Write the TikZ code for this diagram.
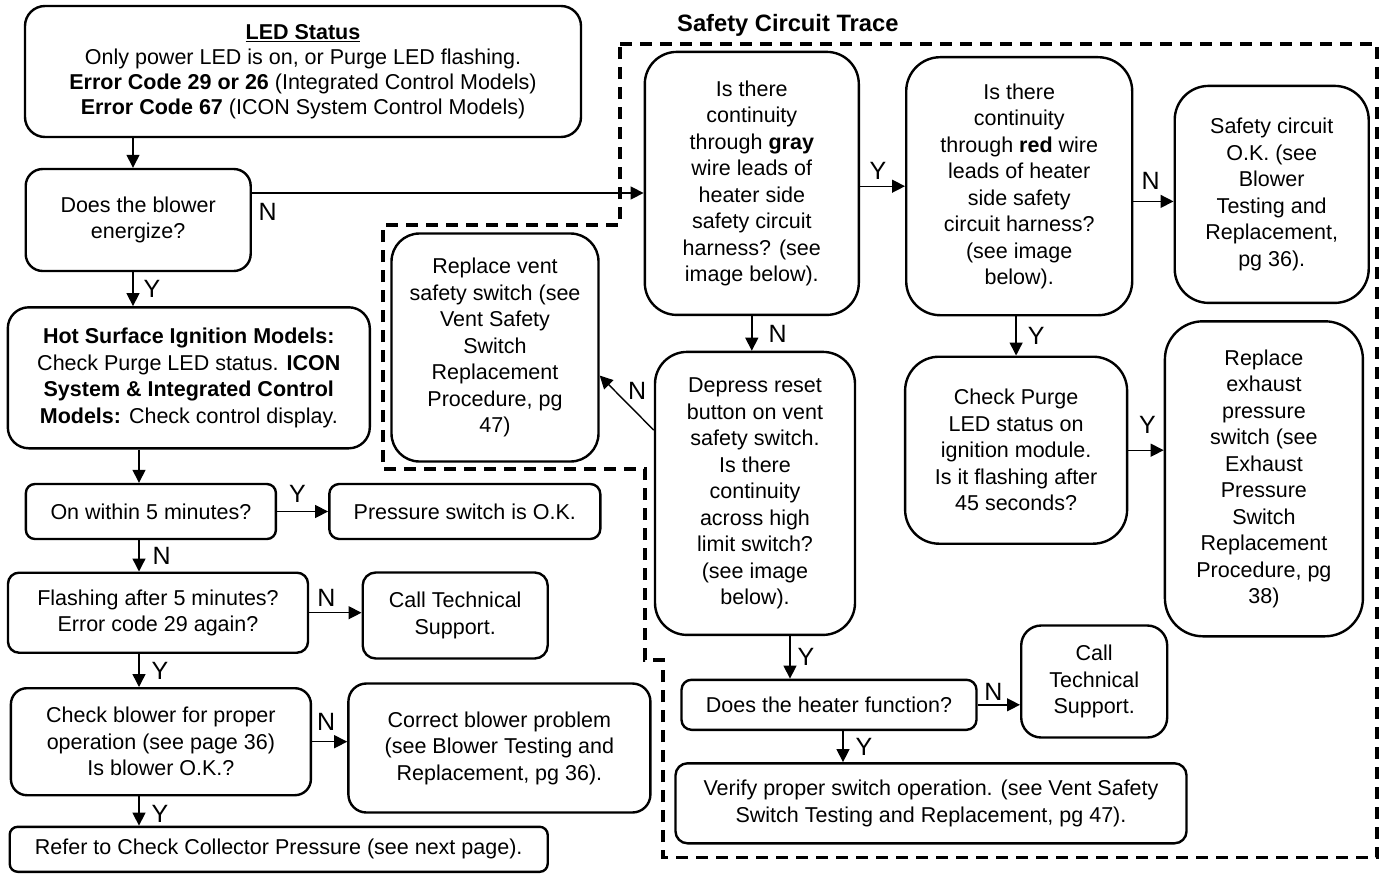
\documentclass[tikz,border=0pt]{standalone}
\usepackage{fontspec}
\setmainfont{Liberation Sans}
\usetikzlibrary{arrows.meta,positioning}

\begin{document}
\begin{tikzpicture}[x=1pt, y=-1pt,
  box/.style={draw, line width=2.4pt, rounded corners=#1, align=center,
              inner sep=0pt, font=\fontsize{21.5}{26.5}\selectfont},
  box/.default=12pt,
  lbl/.style={font=\fontsize{25}{28}\selectfont, inner sep=1pt},
  arr/.style={-{Triangle[length=13pt,width=13pt]}, line width=1.4pt},
  trace/.style={line width=3.8pt, dash pattern=on 12pt off 8pt}
]
\useasboundingbox (0,0) rectangle (1380,875);

\node[box=20pt, minimum width=556pt, minimum height=131pt, font=\fontsize{21.5}{25}\selectfont] (led) at (303,71.5)
  {\underline{\textbf{LED Status}}\\Only power LED is on, or Purge LED flashing.\\
   \textbf{Error Code 29 or 26} (Integrated Control Models)\\\textbf{Error Code 67} (ICON System Control Models)};
\node[box=17pt, minimum width=225pt, minimum height=102pt] (blower) at (138.2,220) {Does the blower\\energize?};
\node[box=21pt, minimum width=362pt, minimum height=141pt] (hsi) at (188.8,377.8)
  {\textbf{Hot Surface Ignition Models:}\\Check Purge LED status. \textbf{ICON}\\
   \textbf{System \& Integrated Control}\\\textbf{Models:} Check control display.};
\node[box=9pt, minimum width=250pt, minimum height=55pt] (onfive) at (150.9,511.5) {On within 5 minutes?};
\node[box=10pt, minimum width=271pt, minimum height=55pt] (pressok) at (464.8,511.5) {Pressure switch is O.K.};
\node[box=11pt, minimum width=300pt, minimum height=80pt] (flash) at (158,612.7) {Flashing after 5 minutes?\\Error code 29 again?};
\node[box=13pt, minimum width=185pt, minimum height=86pt] (calltech) at (455.2,615.5) {Call Technical\\Support.};
\node[box=16pt, minimum width=300pt, minimum height=107pt] (blowchk) at (160.9,741.7)
  {Check blower for proper\\operation (see page 36)\\Is blower O.K.?};
\node[box=18pt, minimum width=302pt, minimum height=129pt] (fixblower) at (499.4,748)
  {Correct blower problem\\(see Blower Testing and\\Replacement, pg 36).};
\node[box=8pt, minimum width=538pt, minimum height=45pt] (refer) at (278.7,849.3)
  {Refer to Check Collector Pressure (see next page).};

\node[box=32pt, minimum width=214pt, minimum height=263pt] (gray) at (751.8,183.4)
  {Is there\\continuity\\through \textbf{gray}\\wire leads of\\heater side\\safety circuit\\harness? (see\\image below).};
\node[box=34pt, minimum width=226pt, minimum height=258pt] (red) at (1019.2,186.2)
  {Is there\\continuity\\through \textbf{red} wire\\leads of heater\\side safety\\circuit harness?\\(see image\\below).};
\node[box=34pt, minimum width=194pt, minimum height=217pt] (safeok) at (1271.7,194.4)
  {Safety circuit\\O.K. (see\\Blower\\Testing and\\Replacement,\\pg 36).};
\node[box=28pt, minimum width=207pt, minimum height=228pt] (vent) at (495,347.5)
  {Replace vent\\safety switch (see\\Vent Safety\\Switch\\Replacement\\Procedure, pg\\47)};
\node[box=32pt, minimum width=200pt, minimum height=283pt] (depress) at (755,493.4)
  {Depress reset\\button on vent\\safety switch.\\Is there\\continuity\\across high\\limit switch?\\(see image\\below).};
\node[box=34pt, minimum width=222pt, minimum height=187pt] (purge) at (1016.1,450.2)
  {Check Purge\\LED status on\\ignition module.\\Is it flashing after\\45 seconds?};
\node[box=38pt, minimum width=198pt, minimum height=315pt] (exhaust) at (1263.9,478.8)
  {Replace\\exhaust\\pressure\\switch (see\\Exhaust\\Pressure\\Switch\\Replacement\\Procedure, pg\\38)};
\node[box=10pt, minimum width=295pt, minimum height=50pt] (heater) at (829,704.8) {Does the heater function?};
\node[box=20pt, minimum width=146pt, minimum height=112pt] (calltechb) at (1094.2,681.5) {Call\\Technical\\Support.};
\node[box=12pt, minimum width=511pt, minimum height=80pt] (verify) at (931,803.3)
  {Verify proper switch operation. (see Vent Safety\\Switch Testing and Replacement, pg 47).};

\node[font=\bfseries\fontsize{23.7}{26}\selectfont, anchor=base west, inner sep=0pt] (tracetitle) at (677,31.7)
  {Safety Circuit Trace};
\draw[trace] (620,44) -- (1377,44) -- (1377,857.5) -- (663,857.5) -- (663,660) -- (645,660)
  -- (645,469) -- (383,469) -- (383,225) -- (620,225) -- cycle;

\coordinate (spineA) at (133,0);
\coordinate (spineB) at (139,0);
\coordinate (spineC) at (790,0);
\coordinate (spineD) at (843,0);
\draw[arr] (spineA |- led.south) -- (spineA |- blower.north);
\draw[arr] (spineA |- blower.south) -- node[lbl, right=9pt]{Y} (spineA |- hsi.north);
\draw[arr] (spineB |- hsi.south) -- (spineB |- onfive.north);
\draw[arr] (onfive.east) -- node[lbl, pos=0.4, above=7pt]{Y} (pressok.west);
\draw[arr] (spineB |- onfive.south) -- node[lbl, right=12pt]{N} (spineB |- flash.north);
\draw[arr] (flash.east) -- node[lbl, pos=0.33, above=5pt]{N} (flash.east -| calltech.west);
\draw[arr] (spineB |- flash.south) -- node[lbl, right=11pt]{Y} (spineB |- blowchk.north);
\draw[arr] (blowchk.east) -- node[lbl, pos=0.4, above=10pt]{N} (blowchk.east -| fixblower.west);
\draw[arr] (spineB |- blowchk.south) -- node[lbl, right=11pt, yshift=-3pt]{Y} (spineB |- refer.north);
\draw[arr] ([yshift=27pt]blower.east) -- node[lbl, pos=0, below right=9pt and 5pt]{N}
  ([yshift=27pt]blower.east -| gray.west);
\draw[arr] (gray.east |- red.west) -- node[lbl, pos=0.4, above=5pt]{Y} (red.west);
\draw[arr] ([yshift=-7pt]safeok.west -| red.east) -- node[lbl, pos=0.43, above=10pt]{N} ([yshift=-7pt]safeok.west);
\draw[arr] (gray.south) -- node[lbl, right=15pt]{N} (gray.south |- depress.north);
\draw[arr] (purge.north |- red.south) -- node[lbl, right=10pt]{Y} (purge.north);
\draw[arr] (purge.east) -- node[lbl, pos=0.54, above=15pt]{Y} (purge.east -| exhaust.west);
\draw[arr] (depress.148) -- node[lbl, pos=0, above left=29pt and 6pt]{N} (vent.-15);
\draw[arr] (spineC |- depress.south) -- node[lbl, right=6pt]{Y} (spineC |- heater.north);
\draw[arr] (heater.east) -- node[lbl, pos=0.37, above=3pt]{N} (heater.east -| calltechb.west);
\draw[arr] (spineD |- heater.south) -- node[lbl, right=11pt]{Y} (spineD |- verify.north);
\end{tikzpicture}
\end{document}
